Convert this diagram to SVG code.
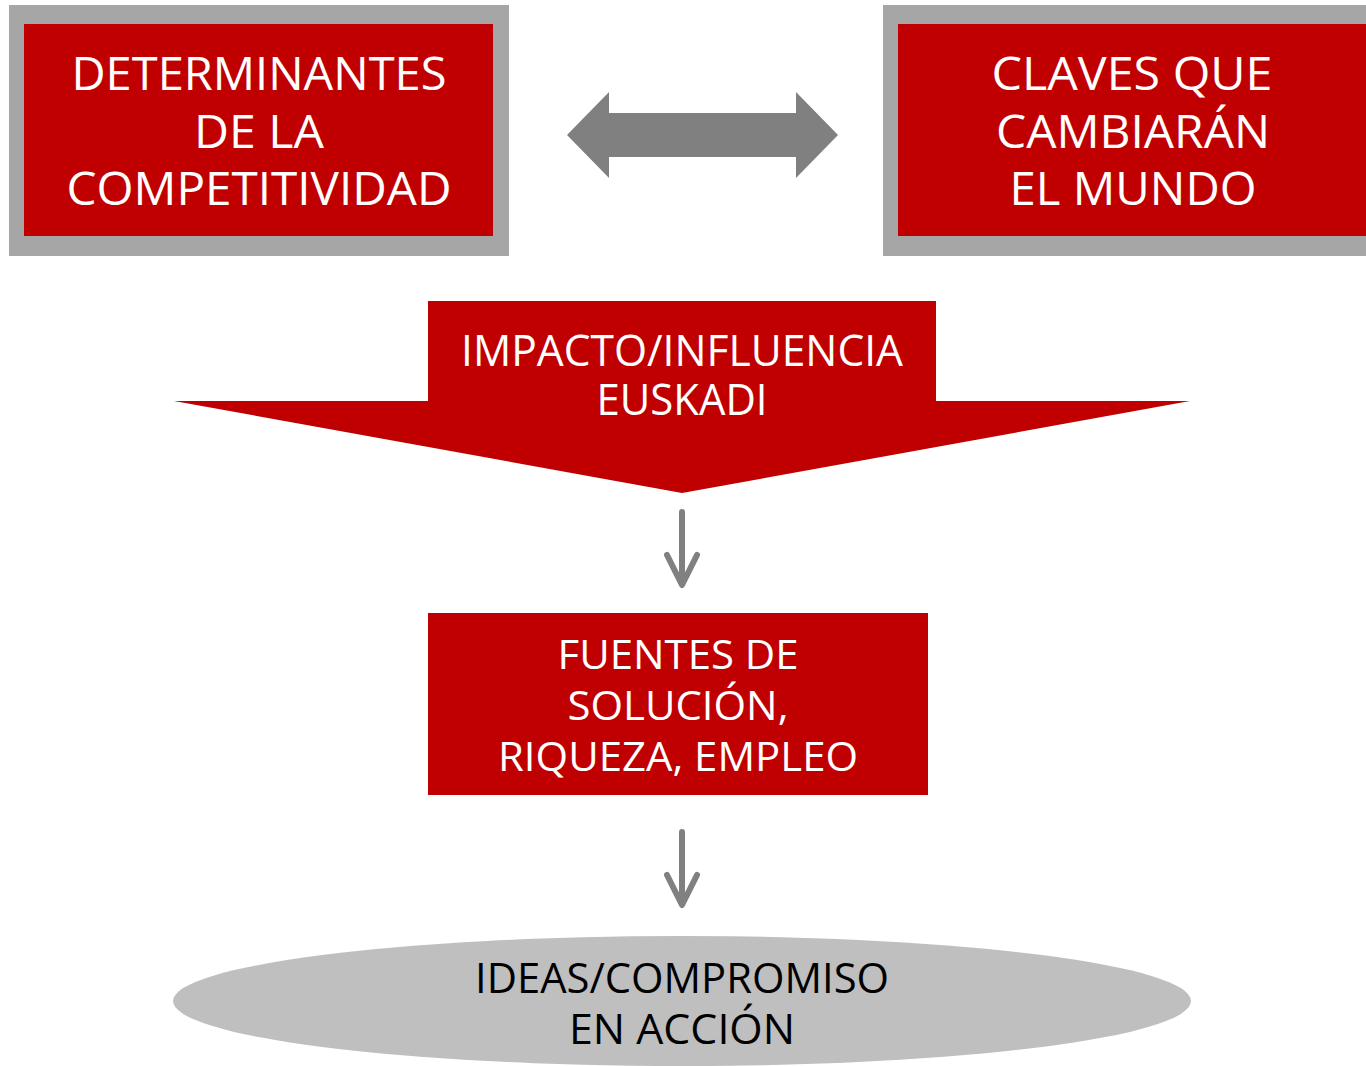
<svg xmlns="http://www.w3.org/2000/svg" width="1366" height="1066" viewBox="0 0 1366 1066">
<style>
.w{fill:#FFFFFF;font-family:"Open Sans","DejaVu Sans",sans-serif;text-anchor:middle}
.b{fill:#000000;font-family:"Open Sans","DejaVu Sans",sans-serif;text-anchor:middle}
.red{fill:#C00000}
.frame{fill:#A6A6A6}
.conn{stroke:#808080;stroke-width:6;fill:none;stroke-linecap:round;stroke-linejoin:round}
</style>
<rect width="1366" height="1066" fill="#FFFFFF"/>
<g id="determinantes">
<rect class="frame" x="9" y="5" width="500" height="251"/>
<rect class="red" x="24" y="24" width="469" height="212"/>
<text class="w" font-size="45" x="259" y="90" textLength="375" lengthAdjust="spacingAndGlyphs">DETERMINANTES</text>
<text class="w" font-size="45" x="259" y="148" textLength="130" lengthAdjust="spacingAndGlyphs">DE LA</text>
<text class="w" font-size="45" x="259" y="205" textLength="385" lengthAdjust="spacingAndGlyphs">COMPETITIVIDAD</text>
</g>
<g id="claves">
<rect class="frame" x="883" y="5" width="483" height="251"/>
<rect class="red" x="898" y="24" width="468" height="212"/>
<text class="w" font-size="45" x="1132" y="90" textLength="281" lengthAdjust="spacingAndGlyphs">CLAVES QUE</text>
<text class="w" font-size="45" x="1133" y="148" textLength="274" lengthAdjust="spacingAndGlyphs">CAMBIARÁN</text>
<text class="w" font-size="45" x="1133" y="205" textLength="247" lengthAdjust="spacingAndGlyphs">EL MUNDO</text>
</g>
<g id="impacto">
<polygon class="red" points="428,301 936,301 936,401 1190,401 682,493 174,401 428,401"/>
<text class="w" font-size="44" x="682" y="366" textLength="442" lengthAdjust="spacingAndGlyphs">IMPACTO/INFLUENCIA</text>
<text class="w" font-size="44" x="682" y="415" textLength="171" lengthAdjust="spacingAndGlyphs">EUSKADI</text>
</g>
<g id="fuentes">
<rect class="red" x="428" y="613" width="500" height="182"/>
<text class="w" font-size="40" x="678" y="669" textLength="241" lengthAdjust="spacingAndGlyphs">FUENTES DE</text>
<text class="w" font-size="40" x="678" y="720" textLength="221" lengthAdjust="spacingAndGlyphs">SOLUCIÓN,</text>
<text class="w" font-size="40" x="678" y="771" textLength="360" lengthAdjust="spacingAndGlyphs">RIQUEZA, EMPLEO</text>
</g>
<g id="ideas">
<ellipse cx="682" cy="1001" rx="509" ry="65" fill="#BFBFBF"/>
<text class="b" font-size="42" x="682" y="993" textLength="414" lengthAdjust="spacingAndGlyphs">IDEAS/COMPROMISO</text>
<text class="b" font-size="42" x="682" y="1044" textLength="226" lengthAdjust="spacingAndGlyphs">EN ACCIÓN</text>
</g>
<g id="connectors">
<polygon fill="#808080" points="567,135 609,92 609,113 796,113 796,92 838,135 796,178 796,157 609,157 609,178"/>
<line class="conn" x1="682" y1="512" x2="682" y2="580"/>
<polyline class="conn" points="667,555 682,585 697,555"/>
<line class="conn" x1="682" y1="832" x2="682" y2="900"/>
<polyline class="conn" points="667,875 682,905 697,875"/>
</g>
</svg>
